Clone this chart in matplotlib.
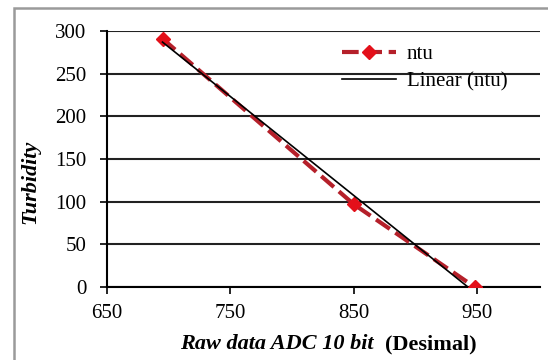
import matplotlib
matplotlib.use("Agg")
import numpy as np
import matplotlib.pyplot as plt
import matplotlib.patches as patches

plt.rcParams['font.family'] = ['Liberation Serif', 'DejaVu Serif']

adc = [695, 850, 948]
ntu = [291, 97, 0]
x_ticks = [650, 750, 850, 950]
y_ticks = [0, 50, 100, 150, 200, 250, 300]

fig = plt.figure(figsize=(5.48, 3.6), dpi=100)
ax = fig.add_axes([107 / 548, 1 - 287 / 360, (540 - 107) / 548, (287 - 31) / 360])

# outer gray frame
fig.add_artist(patches.Rectangle((14 / 548, -10 / 360), 600 / 548, 362 / 360,
                                 transform=fig.transFigure, fill=False,
                                 edgecolor='#9a9a9a', linewidth=1.8))

ax.plot(adc, ntu, color='#b5202a', linestyle=(0, (4, 1.6)), linewidth=3,
        marker='D', markersize=7, markerfacecolor='#e3101a',
        markeredgecolor='#e3101a', label='ntu', zorder=3)

k, b = np.polyfit(adc, ntu, 1)
xs = np.array([adc[0], adc[-1]])
ax.plot(xs, k * xs + b, color='black', linewidth=1.2, label='Linear (ntu)', zorder=4)

ax.set_xlim(650, 1001)
ax.set_ylim(0, 300)
ax.set_xticks(x_ticks)
ax.set_yticks(y_ticks)
ax.tick_params(labelsize=15, length=5, width=1.2, direction='out')
ax.tick_params(axis='y', pad=10)
ax.tick_params(axis='x', pad=7)
ax.yaxis.grid(True, color='#222222', linewidth=1.5)
ax.set_axisbelow(True)
for side in ['top', 'right']:
    ax.spines[side].set_visible(False)
ax.spines['left'].set_linewidth(1.5)
ax.spines['bottom'].set_linewidth(1.5)

ax.set_ylabel('Turbidity', fontsize=16, fontweight='bold', fontstyle='italic')
ax.yaxis.set_label_coords(-0.155, 0.41)
fig.text(374 / 548, 1 - 344 / 360, 'Raw data ADC 10 bit', fontsize=16,
         fontweight='bold', fontstyle='italic', ha='right', va='center')
fig.text(385 / 548, 1 - 344 / 360, '(Desimal)', fontsize=16,
         fontweight='bold', ha='left', va='center')

leg = ax.legend(loc='upper left', bbox_to_anchor=(0.5, 1.02), frameon=False,
                fontsize=15, handlelength=2.6, handletextpad=0.5, labelspacing=0.35)

fig.savefig('out.png', dpi=100)
